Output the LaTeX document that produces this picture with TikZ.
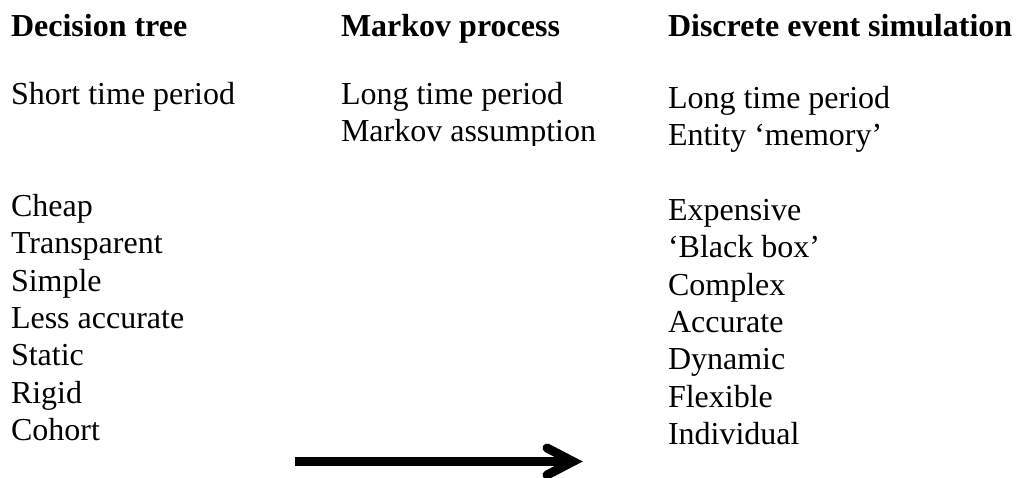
\documentclass[tikz,border=0pt]{standalone}
\usepackage{fontspec}
\setmainfont{Liberation Serif}
\usetikzlibrary{calc}

\tikzset{
  txt/.style={anchor=base west, inner sep=0pt, outer sep=0pt,
              font=\fontsize{32}{38}\selectfont},
  head/.style={txt, font=\fontsize{32}{38}\selectfont\bfseries},
  shaft/.style={line width=9pt, line cap=butt},
  barb/.style={line width=9pt, line cap=round, line join=miter}
}

\begin{document}
\begin{tikzpicture}[x=1pt, y=-1pt]
  \useasboundingbox (0,0) rectangle (1024,477);

  % column positions and line pitch
  \def\colA{11}
  \def\colB{341}
  \def\colC{668}
  \def\pitch{37.4}

  % headings
  \node[head] (hA) at (\colA,36) {Decision tree};
  \node[head] (hB) at (\colB,36) {Markov process};
  \node[head] (hC) at (\colC,36) {Discrete event simulation};

  % time horizon / assumptions
  \node[txt] (tA) at (\colA,104) {Short time period};
  \node[txt] (tB1) at (\colB,104) {Long time period};
  \begin{scope}
    \clip (\colB-5,112) rectangle (\colB+300,104+\pitch+4);
    \node[txt] (tB2) at (\colB,104+\pitch) {Markov assumption};
  \end{scope}
  \node[txt] (tC1) at (\colC,108) {Long time period};
  \node[txt] (tC2) at (\colC,108+\pitch) {Entity ‘memory’};

  % properties of decision trees
  \foreach \w [count=\i from 3] in {Cheap,Transparent,Simple,Less accurate,Static,Rigid,Cohort}
    \node[txt] (pA\i) at (\colA,104+\i*\pitch) {\w};

  % properties of discrete event simulation
  \foreach \w [count=\i from 3] in {Expensive,‘Black box’,Complex,Accurate,Dynamic,Flexible}
    \node[txt] (pC\i) at (\colC,108+\i*\pitch) {\w};
  \begin{scope}
    \clip (\colC-5,108+8.2*\pitch) rectangle (\colC+300,108+9*\pitch+0.5);
    \node[txt] (pC9) at (\colC,108+9*\pitch) {Individual};
  \end{scope}

  % direction arrow
  \coordinate (arrowstart) at (295,461.5);
  \coordinate (arrowtip) at (573,461.5);
  \draw[shaft] (arrowstart) -- (arrowtip);
  \draw[barb] ($(arrowtip)+(-26,-13.5)$) -- (arrowtip) -- ($(arrowtip)+(-26,13.5)$);
\end{tikzpicture}
\end{document}
